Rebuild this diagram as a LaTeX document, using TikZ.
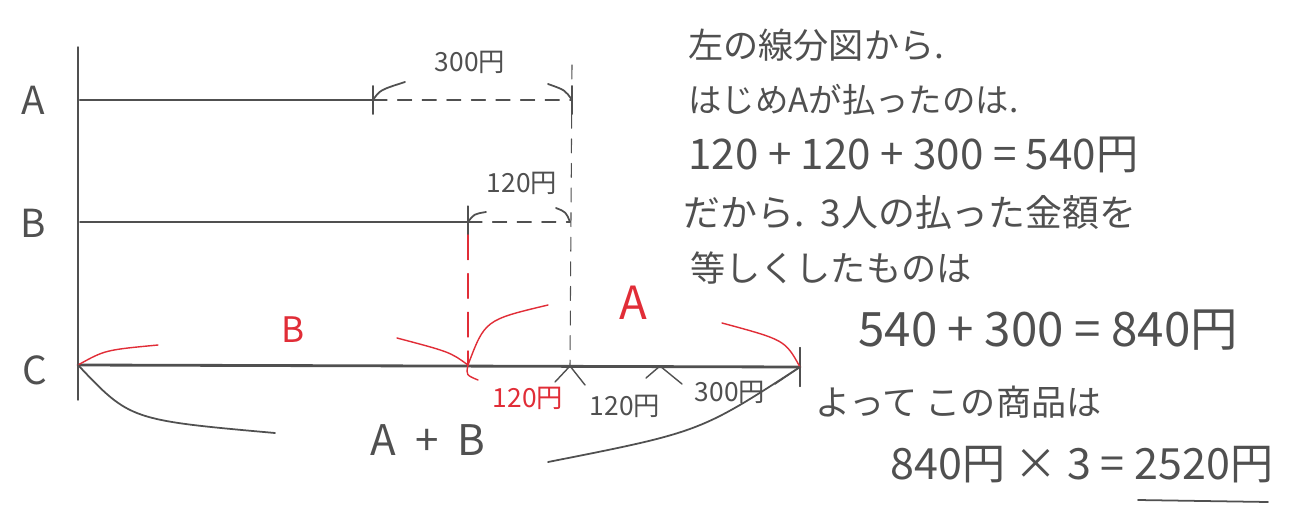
\documentclass[tikz,border=0pt]{standalone}
\usepackage{fontspec}
\newfontfamily\jp{Noto Sans CJK JP}
\definecolor{pencil}{RGB}{80,80,80}
\definecolor{redpen}{RGB}{225,45,55}
\usetikzlibrary{positioning}

\begin{document}
\begin{tikzpicture}[x=0.02cm,y=-0.02cm,line cap=round,
    pen/.style={draw=pencil,line width=1pt},
    redline/.style={draw=redpen,line width=0.8pt},
    guide/.style={draw=pencil,line width=0.6pt,dash pattern=on 8pt off 6pt},
    lbl/.style={text=pencil,font=\jp\fontsize{22}{24}\selectfont,inner sep=0pt},
    small/.style={text=pencil,font=\jp\fontsize{15}{17}\selectfont,inner sep=0pt},
    say/.style={text=pencil,font=\jp\fontsize{20}{24}\selectfont,inner sep=0pt,anchor=west}]
  \useasboundingbox[fill=white] (0,0) rectangle (1292,514);

  % frame of the line segment diagram
  \coordinate (top) at (78,47);
  \coordinate (bot) at (78,400);
  \draw[pen,line width=0.8pt] (top) -- (bot);
  \node[lbl] (la) at (33,100) {A};
  \node[lbl] (lb) at (33,223) {B};
  \node[lbl] (lc) at (35,370) {C};

  % A
  \coordinate (a0) at (80,100);
  \coordinate (a1) at (373,100);
  \coordinate (a2) at (572,100);
  \draw[pen,line width=1.3pt] (a0) -- (a1);
  \draw[pen] ([yshift=8]a1) -- ([yshift=-8]a1);
  \draw[pen] ([yshift=8]a2) -- ([yshift=-8]a2);
  \draw[guide] (a1) -- (a2);
  \coordinate (ah1) at (405,82);
  \coordinate (ah2) at (548,84);
  \draw[pen] (a1) .. controls (380,90) .. (ah1);
  \draw[pen] (ah2) .. controls (565,90) .. (a2);
  \node[small] (d300) at (470,62) {300円};

  % B
  \coordinate (b0) at (80,222);
  \coordinate (b1) at (468,222);
  \coordinate (b2) at (570,222);
  \draw[pen,line width=1.1pt] (b0) -- (b1);
  \draw[pen] ([yshift=9]b1) -- ([yshift=-9]b1);
  \draw[guide] (b1) -- (b2);
  \coordinate (bh1) at (486,212);
  \coordinate (bh2) at (556,208);
  \draw[pen] (b1) .. controls (474,214) .. (bh1);
  \draw[pen] (bh2) .. controls (566,212) .. (b2);
  \node[small] (d120) at (522,183) {120円};

  % C
  \coordinate (c0) at (78,365);
  \coordinate (c1) at (468,365);
  \coordinate (c2) at (570,366);
  \coordinate (c3) at (660,366);
  \coordinate (c4) at (800,367);
  \draw[pen,line width=1.6pt] (c0) -- (c4);
  \draw[pen] ([yshift=11]c4) -- ([yshift=-11]c4);

  % guides down to C
  \draw[guide] (572,65) -- (c2);
  \draw[redline,dash pattern=on 14pt off 8pt] (468,235) -- (c1);

  % red braces above C
  \coordinate (rb1) at (158,345);
  \coordinate (rb2) at (397,338);
  \coordinate (ra1) at (548,305);
  \coordinate (ra2) at (722,323);
  \draw[redline] (c0) .. controls (105,350) .. (rb1);
  \draw[redline] (rb2) .. controls (450,352) .. (c1);
  \draw[redline] (c1) .. controls (485,320) .. (ra1);
  \draw[redline] (ra2) .. controls (785,340) .. (c4);
  \node[text=redpen,font=\jp\fontsize{20}{22}\selectfont,inner sep=0pt] (rB) at (293,330) {B};
  \node[text=redpen,font=\jp\fontsize{26}{28}\selectfont,inner sep=0pt] (rA) at (633,303) {A};

  % marks below C
  \coordinate (rh) at (478,380);
  \draw[redline] (c1) .. controls (466,375) .. (rh);
  \node[text=redpen,font=\jp\fontsize{15}{17}\selectfont,inner sep=0pt] (r120) at (528,398) {120円};
  \draw[pen,line width=0.8pt] (555,382) -- (c2) -- (585,385);
  \draw[pen,line width=0.8pt] (646,378) -- (c3) -- (682,384);
  \draw[pen,line width=0.8pt] (c4) -- (775,384);
  \node[small] (g120) at (625,406) {120円};
  \node[small] (g300) at (730,392) {300円};

  % A + B brace below
  \coordinate (ab1) at (275,433);
  \coordinate (ab2) at (548,462);
  \draw[pen] (c0) .. controls (130,420) .. (ab1);
  \draw[pen] (ab2) .. controls (700,432) .. (c4);
  \node[lbl,font=\jp\fontsize{24}{26}\selectfont] (ab) at (428,440) {A \ + \ B};

  % explanation
  \node[say] (s1) at (688,45) {左の線分図から.};
  \node[say,font=\jp\fontsize{19}{24}\selectfont] (s2) at (688,100) {はじめAが払ったのは.};
  \node[say,font=\jp\fontsize{24}{26}\selectfont] (s3) at (688,155) {120 + 120 + 300 = 540円};
  \node[say,font=\jp\fontsize{21}{24}\selectfont] (s4) at (683,212) {だから.\ \ 3人の払った金額を};
  \node[say] (s5) at (690,268) {等しくしたものは};
  \node[say,font=\jp\fontsize{27}{30}\selectfont] (s6) at (858,330) {540 + 300 = 840円};
  \node[say] (s7) at (815,402) {よって この商品は};
  \node[say,font=\jp\fontsize{24.5}{30}\selectfont] (s8) at (890,465) {840円 × 3 = 2520円};
  \coordinate (u1) at (1138,500);
  \coordinate (u2) at (1268,502);
  \draw[pen] (u1) -- (u2);
\end{tikzpicture}
\end{document}
